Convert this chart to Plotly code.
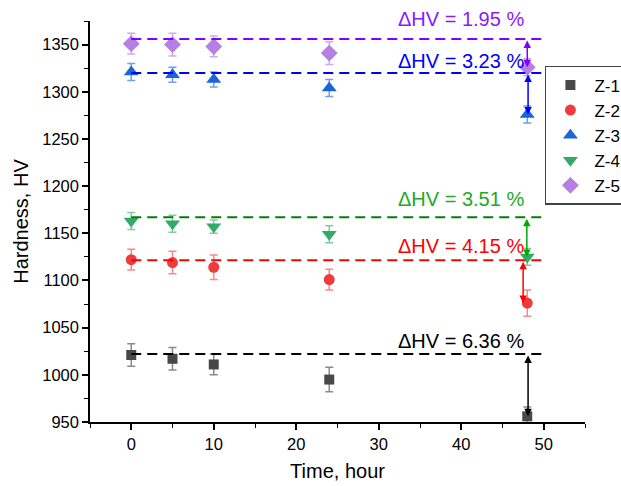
import plotly.graph_objects as go

# ---------------- data ----------------
time_h = [0, 5, 10, 24, 48]
series_names = ["Z-1", "Z-2", "Z-3", "Z-4", "Z-5"]
z1 = [1021, 1017, 1011, 995, 956]
z2 = [1122, 1119, 1114, 1101, 1076]
z3 = [1321, 1318, 1313, 1304, 1276]
z4 = [1163, 1160, 1157, 1149, 1125]
z5 = [1351, 1350, 1348, 1341, 1326]
z1_err = [12, 12, 11, 13, 10]
z2_err = [11, 12, 13, 11, 14]
z3_err = [9, 8, 8, 9, 9]
z4_err = [9, 9, 7, 9, 9]
z5_err = [11, 12, 11, 12, 9]
ref_levels = [1022, 1121.5, 1320, 1167, 1356]
ref_x = [0, 49.8]
delta_hv = ["6.36", "4.15", "3.23", "3.51", "1.95"]
arrow_x = [48.1, 47.5, 48.1, 47.95, 48.0]

values = [z1, z2, z3, z4, z5]
errors = [z1_err, z2_err, z3_err, z4_err, z5_err]

# ---------------- styles ----------------
marker_colors = ["#484848", "#ef3b3b", "#1a66d8", "#33aa66", "#b57fe3"]
err_colors = ["#8a8a8a", "#f58a8a", "#6fa0ea", "#80cca0", "#cfa9ef"]
symbols = ["square", "circle", "triangle-up", "triangle-down", "diamond"]
marker_sizes = [10, 11, 13, 13, 13]
line_colors = ["#000000", "#ff0000", "#0000ff", "#008000", "#8000ff"]
text_colors = ["#000000", "#ff0000", "#0000ff", "#22aa22", "#8a1aff"]
arrow_colors = ["#000000", "#ff0000", "#0000ff", "#00aa00", "#8000ff"]
label_shift = [13, 14, 12, 18, 20]   # px above reference line (text centre)

FONT = "Arial, Liberation Sans, sans-serif"

fig = go.Figure()

for i in range(5):
    fig.add_trace(go.Scatter(
        x=time_h, y=values[i], mode="markers", name=series_names[i],
        marker=dict(symbol=symbols[i], size=marker_sizes[i], color=marker_colors[i], line=dict(width=0)),
        error_y=dict(type="data", array=errors[i], color=err_colors[i], thickness=1.5, width=4),
    ))

for i in range(5):
    fig.add_trace(go.Scatter(
        x=ref_x, y=[ref_levels[i], ref_levels[i]], mode="lines", showlegend=False,
        line=dict(color=line_colors[i], width=2, dash="10px,6px"), hoverinfo="skip",
    ))

annotations = []
for i in range(5):
    annotations.append(dict(
        x=47.8, y=ref_levels[i], xref="x", yref="y", xanchor="right", yanchor="middle",
        yshift=label_shift[i], text=f"ΔHV = {delta_hv[i]} %", showarrow=False,
        font=dict(family=FONT, size=20, color=text_colors[i]),
    ))
    annotations.append(dict(
        x=arrow_x[i], y=values[i][-1], ax=arrow_x[i], ay=ref_levels[i],
        xref="x", yref="y", axref="x", ayref="y", text="", showarrow=True,
        arrowhead=2, arrowside="end+start", arrowsize=1, arrowwidth=1.5,
        arrowcolor=arrow_colors[i], standoff=0, startstandoff=0,
    ))

fig.update_layout(
    width=621, height=486,
    margin=dict(l=90, r=36, t=21, b=64, autoexpand=False),
    paper_bgcolor="white", plot_bgcolor="white",
    font=dict(family=FONT, color="black"),
    showlegend=True,
    legend=dict(
        x=0.919, y=0.888, xanchor="left", yanchor="top",
        bgcolor="white", bordercolor="#444444", borderwidth=1.5,
        itemwidth=38,
        font=dict(family=FONT, size=17, color="black"),
    ),
    annotations=annotations,
)

fig.update_xaxes(
    range=[-5, 55], tickmode="linear", tick0=0, dtick=10,
    showline=True, linecolor="black", linewidth=1.5, mirror=False,
    ticks="outside", ticklen=6, tickwidth=1.5, tickcolor="black",
    minor=dict(dtick=5, ticks="outside", ticklen=4, tickwidth=1.2, tickcolor="black"),
    showgrid=False, zeroline=False,
    tickfont=dict(family=FONT, size=16.5),
    title=dict(text="Time, hour", font=dict(family=FONT, size=20), standoff=12),
)
fig.update_yaxes(
    range=[950, 1375], tickmode="linear", tick0=950, dtick=50,
    showline=True, linecolor="black", linewidth=1.5, mirror=False,
    ticks="outside", ticklen=6, tickwidth=1.5, tickcolor="black",
    minor=dict(dtick=25, ticks="outside", ticklen=4, tickwidth=1.2, tickcolor="black"),
    showgrid=False, zeroline=False,
    tickfont=dict(family=FONT, size=16.5),
    title=dict(text="Hardness, HV", font=dict(family=FONT, size=20), standoff=8),
)

fig.write_html("out.html", config={"displayModeBar": False},
               post_script="document.body.style.margin='0';")
